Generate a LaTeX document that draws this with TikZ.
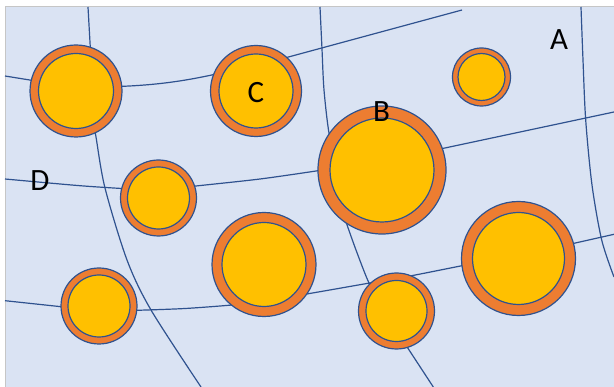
\documentclass[tikz,border=0pt]{standalone}
\usepackage{fontspec}
\setmainfont{Carlito}
\definecolor{bg}{HTML}{DAE3F3}
\definecolor{ln}{HTML}{2F528F}
\definecolor{org}{HTML}{ED7D31}
\definecolor{yel}{HTML}{FFC000}
\newcommand\bub[4]{%
  \node[ringc, minimum size=#3pt] (#1) at (#2) {};
  \node[corec, minimum size=#4pt] (#1i) at (#2) {};}
\begin{document}
\begin{tikzpicture}[x=1pt,y=-1pt,
  curve/.style={draw=ln, line width=1.2pt},
  ringc/.style={circle, fill=org, draw=ln, line width=1.2pt, inner sep=0pt, outer sep=0pt},
  corec/.style={circle, fill=yel, draw=ln, line width=1.2pt, inner sep=0pt, outer sep=0pt},
  lbl/.style={font=\fontsize{31}{31}\selectfont, inner sep=0pt, text=black}]
\useasboundingbox (0,0) rectangle (614,387);
\path[fill=bg] (5,7) rectangle (614,387);
\draw[gray!45, line width=1pt] (5,387) -- (5,7) -- (614,7);
% horizontal-ish curves
\draw[curve] (5,76) -- (76,87.5);
\draw[curve] (100,87) .. controls (160,86) and (190,80) .. (230,71);
\draw[curve] (270,62) -- (462,10);
\draw[curve] plot[smooth] coordinates {(5,179) (80,185.7) (130,189)};
\draw[curve] plot[smooth] coordinates {(170,189) (196,186) (260,179) (318,170.7) (340,167)};
\draw[curve] (420,153.3) -- (614,112);
\draw[curve] plot[smooth] coordinates {(5,300.7) (61,306.7) (80,308.7)};
\draw[curve] plot[smooth] coordinates {(120,310.5) (137,310.3) (185,308.5) (232,305) (245,303)};
\draw[curve] plot[smooth] coordinates {(290,296.5) (305,294.3) (368,283.3) (410,276) (462,265.7) (480,262)};
\draw[curve] (550,248.7) -- (614,234.3);
% vertical-ish curves
\draw[curve] (88,7) -- (91,60);
\draw[curve] plot[smooth] coordinates {(93,120) (96,137) (105,188) (127,260) (151,310) (201,387)};
\draw[curve] plot[smooth] coordinates {(320,7) (322,49) (324,90) (329,133) (335,150)};
\draw[curve] plot[smooth] coordinates {(340,205) (346,222) (356,250) (369,283) (380,300)};
\draw[curve] (395,328.5) -- (433.3,387);
\draw[curve] plot[smooth] coordinates {(581,7) (583,60) (585.7,120) (592,185) (601.7,240) (614,277)};
% bubbles
\bub{c1}{76,91}{92}{75}
\bub{cc}{256,91}{91}{74}
\bub{c3}{481.5,77}{58}{47}
\bub{cb}{382,170}{128}{104}
\bub{c5}{158.5,198}{76}{62}
\bub{c6}{264,264.5}{104}{84}
\bub{c7}{99,306}{76}{62}
\bub{c8}{396.5,311}{76}{61}
\bub{c9}{518.5,258.5}{114}{92}
% labels
\node[lbl] (la) at (559,40) {A};
\node[lbl] (lb) at (381.5,112) {B};
\node[lbl] (lc) at (256,93) {C};
\node[lbl] (ld) at (40,181) {D};
\end{tikzpicture}
\end{document}
